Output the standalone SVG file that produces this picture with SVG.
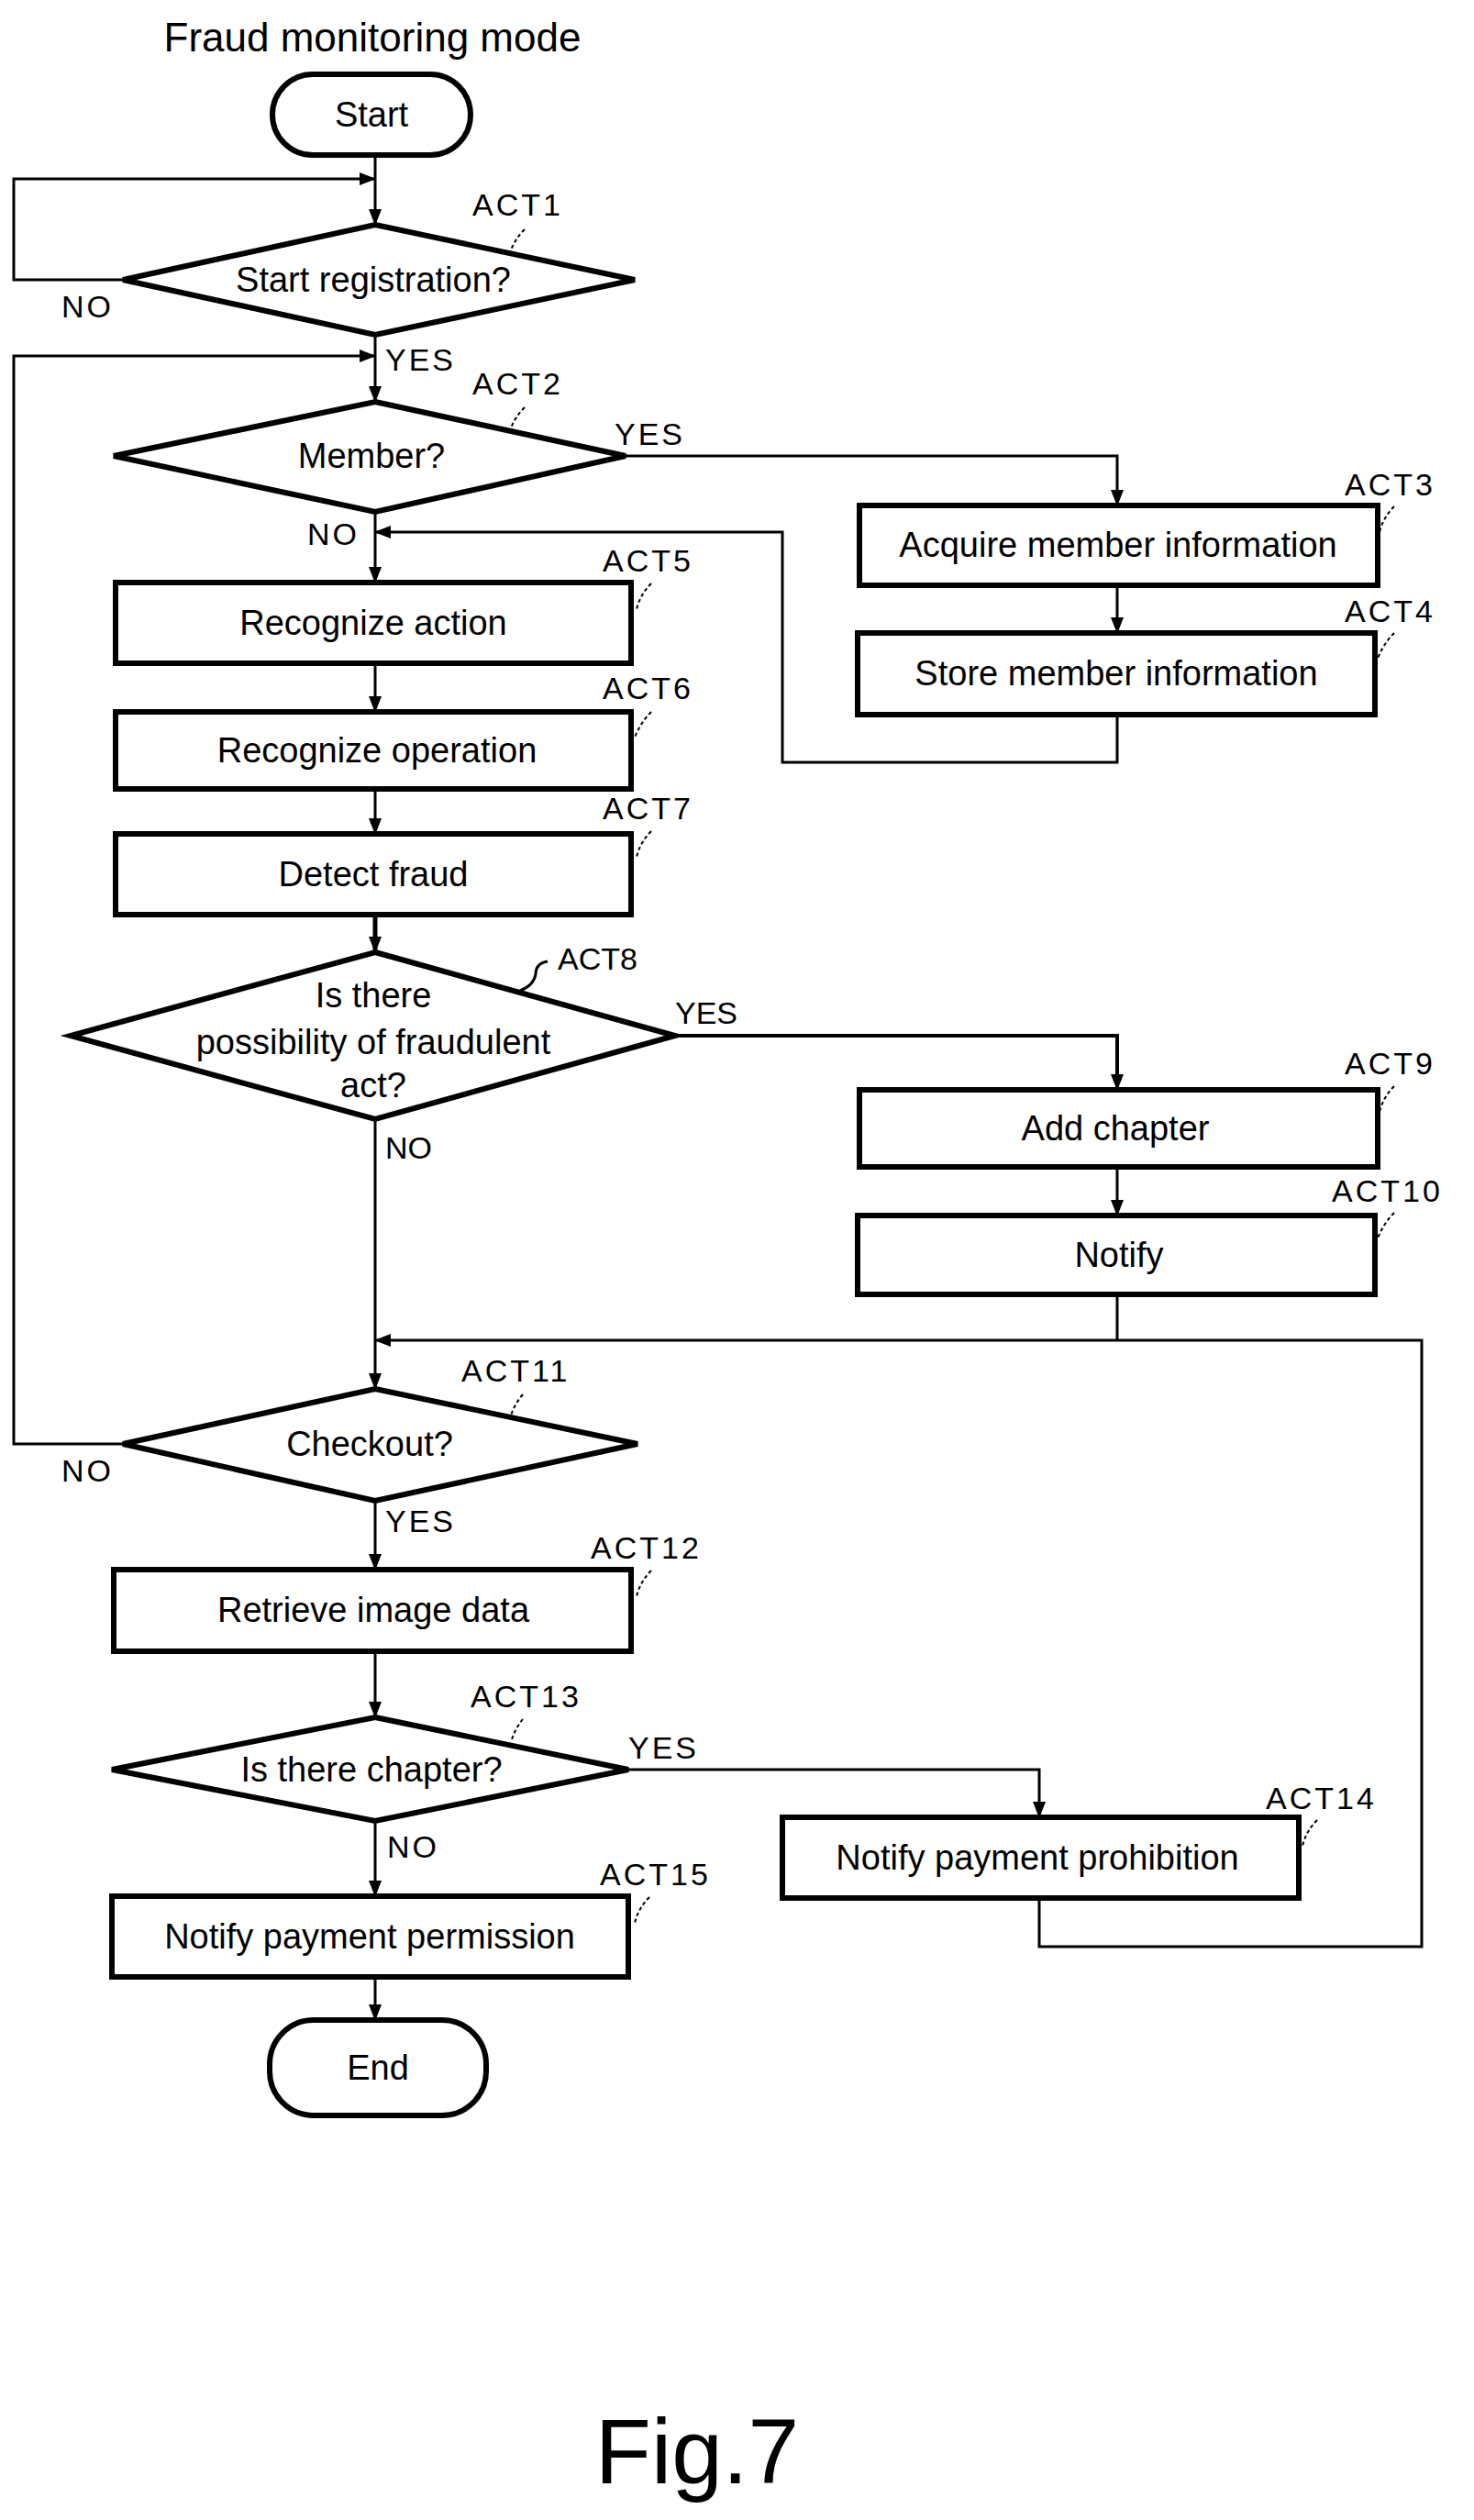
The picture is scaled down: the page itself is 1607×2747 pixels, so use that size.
<svg xmlns="http://www.w3.org/2000/svg" width="1607" height="2747" viewBox="0 0 1607 2747">
<style>
.b{fill:#fff;stroke:#000;stroke-width:6}
.t{font-family:"Liberation Sans",Arial,sans-serif;font-size:38px;text-anchor:middle;dominant-baseline:central;fill:#000}
.a{font-family:"Liberation Sans",Arial,sans-serif;font-size:34px;letter-spacing:3px;fill:#000}
.c{fill:none;stroke:#000;stroke-width:3}
.l{fill:none;stroke:#000;stroke-width:2;stroke-dasharray:4 3}
</style>
<defs><marker id="ar" markerWidth="10" markerHeight="10" refX="9" refY="5" orient="auto" markerUnits="userSpaceOnUse"><path d="M0,0 L10,5 L0,10 Z" fill="#000"/></marker>
<marker id="ah" markerWidth="18" markerHeight="18" refX="17" refY="9" orient="auto" markerUnits="userSpaceOnUse"><path d="M0,2 L18,9 L0,16 Z" fill="#000"/></marker></defs>
<rect width="1607" height="2747" fill="#fff"/>
<text x="406" y="40" class="t" style="font-size:44px">Fraud monitoring mode</text>
<g id="connectors">
<path class="c" d="M409,169 V245" marker-end="url(#ah)"/>
<path class="c" d="M134,305 H15 V195 H409" marker-end="url(#ah)"/>
<path class="c" d="M409,365 V438" marker-end="url(#ah)"/>
<path class="c" d="M134,1574 H15 V388 H409" marker-end="url(#ah)"/>
<path class="c" d="M682,497 H1218 V551" marker-end="url(#ah)"/>
<path class="c" d="M409,558 V635" marker-end="url(#ah)"/>
<path class="c" d="M1218,638 V690" marker-end="url(#ah)"/>
<path class="c" d="M1218,779 V831 H853 V580 H409" marker-end="url(#ah)"/>
<path class="c" d="M409,723 V776" marker-end="url(#ah)"/>
<path class="c" d="M409,860 V909" marker-end="url(#ah)"/>
<path class="c" style="stroke-width:5" d="M409,997 V1038" marker-end="url(#ah)"/>
<path class="c" style="stroke-width:4" d="M736,1129 H1218 V1188" marker-end="url(#ah)"/>
<path class="c" d="M1218,1272 V1325" marker-end="url(#ah)"/>
<path class="c" d="M1218,1411 V1461"/>
<path class="c" d="M409,1220 V1514" marker-end="url(#ah)"/>
<path class="c" d="M1218,1461 H1550 V2122 H1133 V2069"/>
<path class="c" d="M1218,1461 H409" marker-end="url(#ah)"/>
<path class="c" d="M409,1636 V1711" marker-end="url(#ah)"/>
<path class="c" d="M409,1800 V1872" marker-end="url(#ah)"/>
<path class="c" d="M685,1929 H1133 V1981" marker-end="url(#ah)"/>
<path class="c" d="M409,1985 V2067" marker-end="url(#ah)"/>
<path class="c" d="M409,2155 V2202" marker-end="url(#ah)"/>
</g>
<g id="start"><rect class="b" x="297" y="81" width="216" height="88" rx="44"/><text class="t" x="405" y="125">Start</text></g>
<g id="act1"><polygon class="b" points="409,245 692,305 409,365 134,305"/><text class="t" x="407" y="305">Start registration?</text><text class="a" x="515" y="235">ACT1</text><path class="l" d="M572,250 Q560,262 556,276"/></g>
<g id="act2"><polygon class="b" points="409,438 682,497 409,558 124,497"/><text class="t" x="405" y="497">Member?</text><text class="a" x="515" y="430">ACT2</text><path class="l" d="M572,444 Q560,456 556,470"/></g>
<g id="act3"><rect class="b" x="937" y="551" width="565" height="87"/><text class="t" x="1219" y="594">Acquire member information</text><text class="a" x="1466" y="540">ACT3</text><path class="l" d="M1520,552 Q1508,564 1504,580"/></g>
<g id="act4"><rect class="b" x="935" y="690" width="564" height="89"/><text class="t" x="1217" y="734">Store member information</text><text class="a" x="1466" y="678">ACT4</text><path class="l" d="M1520,690 Q1508,702 1502,718"/></g>
<g id="act5"><rect class="b" x="126" y="635" width="562" height="88"/><text class="t" x="407" y="679">Recognize action</text><text class="a" x="657" y="623">ACT5</text><path class="l" d="M710,636 Q698,648 694,664"/></g>
<g id="act6"><rect class="b" x="126" y="776" width="562" height="84"/><text class="t" x="411" y="818">Recognize operation</text><text class="a" x="657" y="762">ACT6</text><path class="l" d="M710,776 Q698,788 692,804"/></g>
<g id="act7"><rect class="b" x="126" y="909" width="562" height="88"/><text class="t" x="407" y="953">Detect fraud</text><text class="a" x="657" y="893">ACT7</text><path class="l" d="M710,906 Q698,918 694,934"/></g>
<g id="act8"><polygon class="b" points="409,1038 736,1129 409,1220 77,1129"/><text class="t" x="407" y="1085">Is there</text><text class="t" x="407" y="1136">possibility of fraudulent</text><text class="t" x="407" y="1183">act?</text><text class="a" x="608" y="1057" style="letter-spacing:0">ACT8</text><path fill="none" stroke="#000" stroke-width="3" d="M597,1048 Q584,1050 584,1062 Q582,1074 567,1080"/></g>
<g id="act9"><rect class="b" x="937" y="1188" width="565" height="84"/><text class="t" x="1216" y="1230">Add chapter</text><text class="a" x="1466" y="1171">ACT9</text><path class="l" d="M1520,1184 Q1508,1196 1504,1212"/></g>
<g id="act10"><rect class="b" x="935" y="1325" width="564" height="86"/><text class="t" x="1220" y="1368">Notify</text><text class="a" x="1452" y="1310">ACT10</text><path class="l" d="M1520,1322 Q1508,1334 1502,1350"/></g>
<g id="act11"><polygon class="b" points="409,1514 695,1574 409,1636 134,1574"/><text class="t" x="403" y="1574">Checkout?</text><text class="a" x="503" y="1506">ACT11</text><path class="l" d="M570,1520 Q560,1532 556,1546"/></g>
<g id="act12"><rect class="b" x="124" y="1711" width="564" height="89"/><text class="t" x="407" y="1755">Retrieve image data</text><text class="a" x="644" y="1699">ACT12</text><path class="l" d="M710,1712 Q698,1724 694,1740"/></g>
<g id="act13"><polygon class="b" points="409,1872 685,1929 409,1985 122,1929"/><text class="t" x="405" y="1929">Is there chapter?</text><text class="a" x="513" y="1861">ACT13</text><path class="l" d="M570,1874 Q562,1884 558,1896"/></g>
<g id="act14"><rect class="b" x="853" y="1981" width="563" height="88"/><text class="t" x="1131" y="2025">Notify payment prohibition</text><text class="a" x="1380" y="1972">ACT14</text><path class="l" d="M1436,1984 Q1424,1996 1420,2012"/></g>
<g id="act15"><rect class="b" x="122" y="2067" width="563" height="88"/><text class="t" x="403" y="2111">Notify payment permission</text><text class="a" x="654" y="2055">ACT15</text><path class="l" d="M708,2068 Q696,2080 692,2096"/></g>
<g id="end"><rect class="b" x="294" y="2202" width="236" height="104" rx="48"/><text class="t" x="412" y="2254">End</text></g>
<g id="labels">
<text class="a" x="67" y="346">NO</text>
<text class="a" x="420" y="404">YES</text>
<text class="a" x="670" y="485">YES</text>
<text class="a" x="335" y="594">NO</text>
<text class="a" x="736" y="1116" style="letter-spacing:0">YES</text>
<text class="a" x="420" y="1263" style="letter-spacing:0">NO</text>
<text class="a" x="67" y="1615">NO</text>
<text class="a" x="420" y="1670">YES</text>
<text class="a" x="685" y="1917">YES</text>
<text class="a" x="422" y="2025">NO</text>
</g>
<text x="760" y="2707" style="font-family:'Liberation Sans',Arial,sans-serif;font-size:100px;text-anchor:middle">Fig.7</text>
</svg>
